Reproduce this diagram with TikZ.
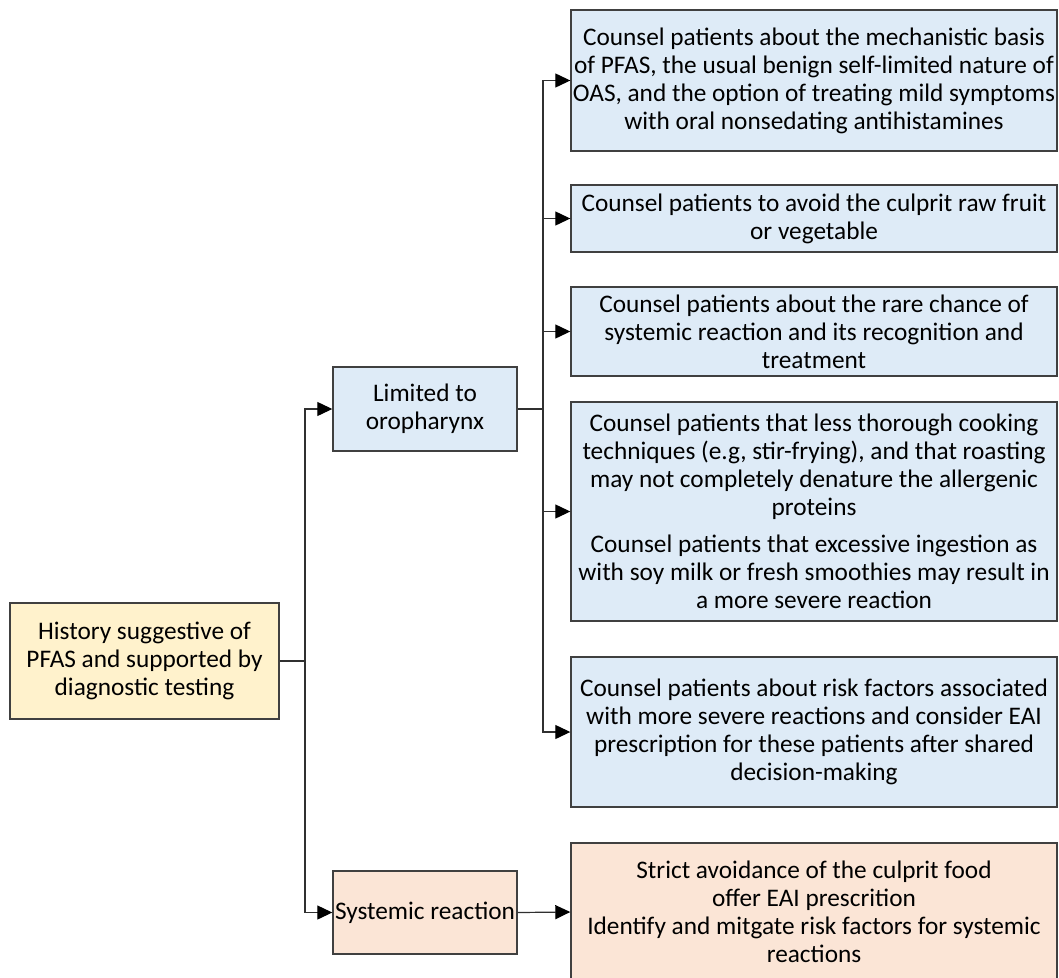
\documentclass[tikz,border=0pt]{standalone}
\usepackage{fontspec}
\setmainfont{Carlito}
\usetikzlibrary{arrows.meta}
\definecolor{bluefill}{HTML}{DEEBF7}
\definecolor{yellowfill}{HTML}{FFF2CC}
\definecolor{peachfill}{HTML}{FBE5D6}
\definecolor{edgegray}{HTML}{404040}
\definecolor{wiregray}{HTML}{303030}
\begin{document}
\begin{tikzpicture}[x=1pt,y=-1pt,
  box/.style={draw=edgegray, line width=1.4pt, align=center, inner sep=0pt,
    font=\fontsize{25.3}{28}\selectfont, text=black},
  bluebox/.style={box, fill=bluefill},
  rbox/.style={bluebox, minimum width=486pt},
  wire/.style={draw=wiregray, line width=1.2pt},
  arr/.style={wire, -{Triangle[length=15pt,width=14pt,color=black]}}
]
\useasboundingbox (0,0) rectangle (1059,977);

\node[box, fill=yellowfill, minimum width=269pt, minimum height=116pt] (A) at (144.5,661)
  {History suggestive of\\PFAS and supported by\\diagnostic testing};
\node[bluebox, minimum width=184pt, minimum height=84pt] (B) at (425,409)
  {Limited to\\oropharynx};
\node[box, fill=peachfill, minimum width=184pt, minimum height=83pt] (C) at (425,912.5)
  {Systemic reaction};

\node[rbox, minimum height=141pt] (R1) at (814,80.5)
  {Counsel patients about the mechanistic basis\\of PFAS, the usual benign self-limited nature of\\OAS, and the option of treating mild symptoms\\with oral nonsedating antihistamines};
\node[rbox, minimum height=67pt] (R2) at (814,218.5)
  {Counsel patients to avoid the culprit raw fruit\\or vegetable};
\node[rbox, minimum height=89pt] (R3) at (814,331.5)
  {Counsel patients about the rare chance of\\systemic reaction and its recognition and\\treatment};
\node[rbox, minimum height=219pt] (R4) at (814,511.5)
  {Counsel patients that less thorough cooking\\techniques (e.g, stir-frying), and that roasting\\may not completely denature the allergenic\\proteins\\[9pt]Counsel patients that excessive ingestion as\\with soy milk or fresh smoothies may result in\\a more severe reaction};
\node[rbox, minimum height=150pt] (R5) at (814,732)
  {Counsel patients about risk factors associated\\with more severe reactions and consider EAI\\prescription for these patients after shared\\decision-making};
\node[box, fill=peachfill, minimum width=486pt, minimum height=138pt] (R6) at (814,912)
  {Strict avoidance of the culprit food\\offer EAI prescrition\\Identify and mitgate risk factors for systemic\\reactions};

\coordinate (t1) at (305,661);
\coordinate (t2) at (543,409);
\draw[wire] (A.east) -- (t1);
\draw[arr] (t1) |- (B.west);
\draw[arr] (t1) |- (C.west);
\draw[wire] (B.east) -- (t2);
\draw[arr] (t2) |- (R1.west);
\draw[arr] (t2) |- (R2.west);
\draw[arr] (t2) |- (R3.west);
\draw[arr] (t2) |- (R4.west);
\draw[arr] (t2) |- (R5.west);
\draw[arr] (C.east) -- (R6.west);
\end{tikzpicture}
\end{document}
